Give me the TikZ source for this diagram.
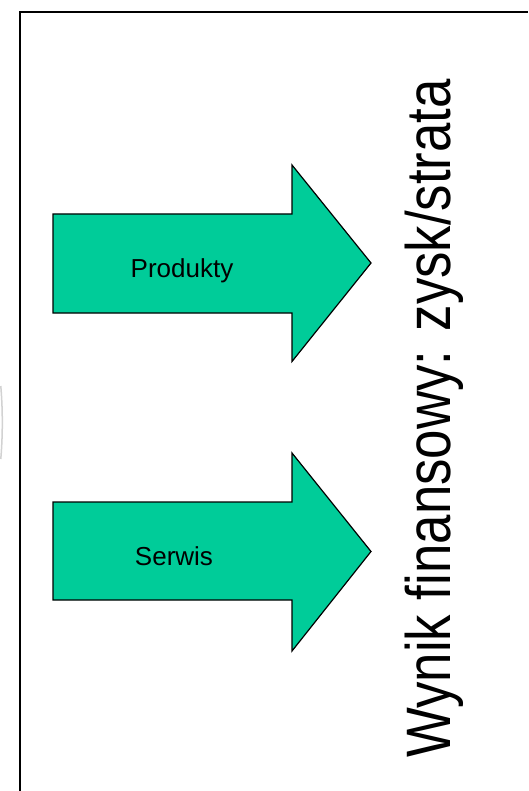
\documentclass[tikz,border=0pt]{standalone}
\usepackage{fontspec}
\setmainfont{Liberation Sans}
\newfontfamily\narrowfont[FakeStretch=0.84]{Liberation Sans}
\definecolor{arrowfill}{HTML}{00CC99}
\begin{document}
\begin{tikzpicture}[x=1pt,y=-1pt,
  blockarrow/.style={fill=arrowfill,draw=black,line width=1.2pt,line join=miter},
  label/.style={font=\fontsize{26}{30}\selectfont,inner sep=0pt,anchor=base},
  frameline/.style={line width=2pt,draw=black}]
\useasboundingbox (0,0) rectangle (528,791);
\fill[white] (0,0) rectangle (528,791);

% faint edge mark on the far left
\draw[gray!35,line width=1.5pt] (0.8,386) .. controls (2.8,410) and (2.8,435) .. (0.8,459);

% slide frame (open to the right and bottom)
\draw[frameline] (20,791) -- (20,12) -- (528,12);

% upper block arrow
\draw[blockarrow] (53,214) -- (292,214) -- (292,165) -- (371,263) -- (292,361.5)
  -- (292,313) -- (53,313) -- cycle;
\node[label] (produkty) at (182,277) {Produkty};

% lower block arrow
\draw[blockarrow] (53,502) -- (292,502) -- (292,453) -- (371,551.5) -- (292,651)
  -- (292,600) -- (53,600) -- cycle;
\node[label] (serwis) at (174,565) {Serwis};

% vertical result caption
\node[rotate=90,anchor=base west,inner sep=0pt,
  font=\narrowfont\fontsize{62.8}{70}\selectfont] (wynik) at (450,758)
  {Wynik finansowy: zysk/strata};
\end{tikzpicture}
\end{document}
